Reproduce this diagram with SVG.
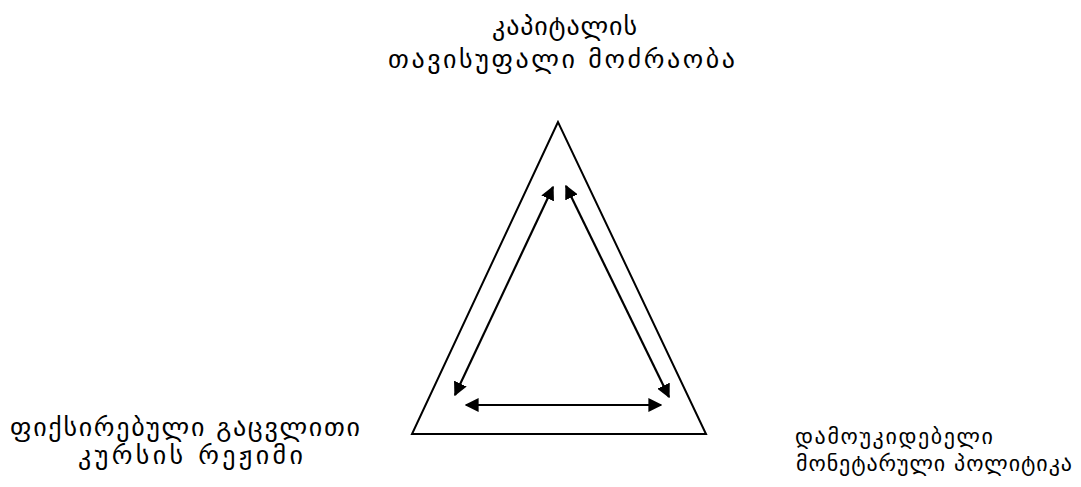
<svg xmlns="http://www.w3.org/2000/svg" width="1081" height="487" viewBox="0 0 1081 487">
<defs>
<style>
.lbl{font-family:"DejaVu Sans",sans-serif;font-size:26px;fill:#000}
.sm{font-size:22px}
.tri{fill:none;stroke:#000;stroke-width:2}
.arr{stroke:#000;stroke-width:2.2;fill:none;marker-start:url(#ah);marker-end:url(#ah)}
</style>
<marker id="ah" viewBox="0 0 10 10" refX="9" refY="5" markerWidth="14" markerHeight="14" markerUnits="userSpaceOnUse" orient="auto-start-reverse">
<path d="M0,0 L10,5 L0,10 Z" fill="#000"/>
</marker>
</defs>
<rect width="1081" height="487" fill="#fff"/>
<g id="triangle"><polygon class="tri" points="558,122 412,434 706,434"/></g>
<g id="node-top">
<text class="lbl" x="492" y="35" textLength="145" lengthAdjust="spacing">კაპიტალის</text>
<text class="lbl" x="388" y="68" textLength="347" lengthAdjust="spacing">თავისუფალი მოძრაობა</text>
</g>
<g id="node-left">
<text class="lbl" x="10" y="436" textLength="350" lengthAdjust="spacing">ფიქსირებული გაცვლითი</text>
<text class="lbl" x="78" y="464" textLength="225" lengthAdjust="spacing">კურსის რეჟიმი</text>
</g>
<g id="node-right">
<text class="lbl sm" x="795" y="444" textLength="198" lengthAdjust="spacing">დამოუკიდებელი</text>
<text class="lbl sm" x="796" y="471" textLength="276" lengthAdjust="spacing">მონეტარული პოლიტიკა</text>
</g>
<g id="connectors">
<line class="arr" x1="455" y1="395" x2="553" y2="187"/>
<line class="arr" x1="566" y1="186" x2="669" y2="397"/>
<line class="arr" x1="466" y1="405" x2="661" y2="405"/>
</g>
</svg>
